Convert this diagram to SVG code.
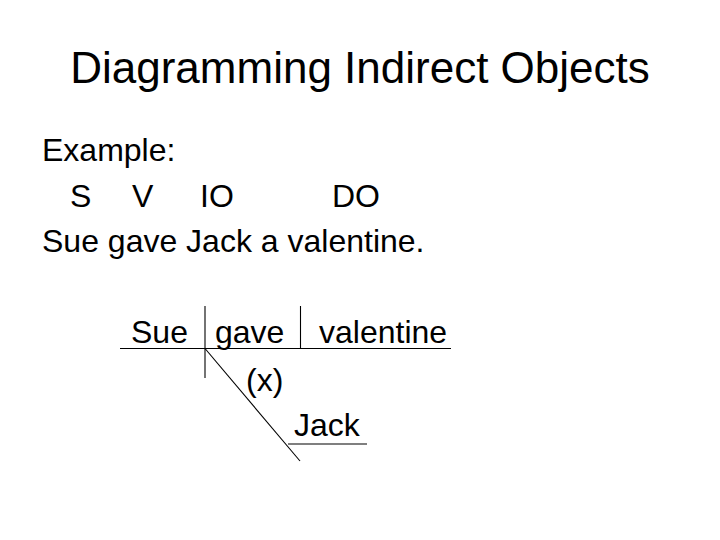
<svg xmlns="http://www.w3.org/2000/svg" width="720" height="540" viewBox="0 0 720 540">
<style>
text{font-family:"Liberation Sans",Arial,sans-serif;fill:#000}
.t{font-size:44px}
.b{font-size:32px}
.ln{stroke:#000;stroke-width:1.1;fill:none}
</style>
<rect width="720" height="540" fill="#fff"/>
<g id="title"><text class="t" x="360" y="83" text-anchor="middle">Diagramming Indirect Objects</text></g>
<g id="example">
<text class="b" x="42" y="161">Example:</text>
<text class="b" x="70" y="207">S</text>
<text class="b" x="132" y="207">V</text>
<text class="b" x="200" y="207">IO</text>
<text class="b" x="332" y="207">DO</text>
<text class="b" x="42" y="252">Sue gave Jack a valentine.</text>
</g>
<g id="connectors">
<line class="ln" x1="120" y1="348.5" x2="451" y2="348.5"/>
<line class="ln" x1="205" y1="306" x2="205" y2="378"/>
<line class="ln" x1="300.5" y1="306" x2="300.5" y2="348.5"/>
<line class="ln" x1="205" y1="348.5" x2="300" y2="461"/>
<line class="ln" x1="288" y1="444" x2="367" y2="444"/>
</g>
<g id="node-subject"><text class="b" x="131" y="343">Sue</text></g>
<g id="node-verb"><text class="b" x="215" y="343">gave</text></g>
<g id="node-do"><text class="b" x="319" y="343">valentine</text></g>
<g id="node-x"><text class="b" x="246" y="391">(x)</text></g>
<g id="node-io"><text class="b" x="294" y="436">Jack</text></g>
</svg>
